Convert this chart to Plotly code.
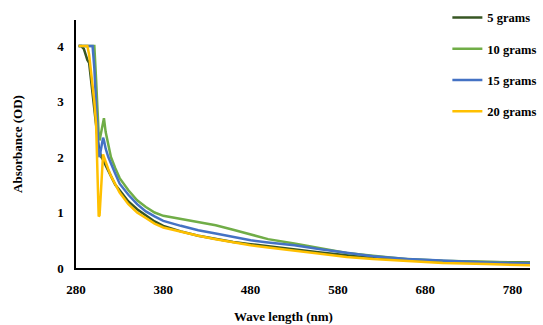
import plotly.graph_objects as go

wavelength = [283, 286, 289, 291, 293, 295, 297, 299, 301, 303, 305, 306, 307, 309, 311, 312, 314, 317, 320, 325,
              330, 340, 350, 360, 370, 380, 400, 420, 440, 460, 480, 500, 530, 560, 590, 620, 660, 700, 750, 800]

abs_5g = [4.0, 4.0, 3.95, 3.85, 3.75, 3.7, 3.4, 3.1, 2.85, 2.6, 2.3, 2.2, 2.1, 2.0, 1.95, 1.92, 1.85, 1.75, 1.65, 1.5,
          1.4, 1.2, 1.06, 0.95, 0.84, 0.76, 0.66, 0.58, 0.52, 0.47, 0.43, 0.39, 0.34, 0.28, 0.23, 0.18, 0.14, 0.12, 0.11, 0.1]
abs_10g = [4.0, 4.0, 4.0, 4.0, 4.0, 4.0, 4.0, 4.0, 4.0, 3.4, 2.6, 2.4, 2.3, 2.45, 2.65, 2.7, 2.45, 2.2, 2.0, 1.8,
           1.62, 1.4, 1.22, 1.1, 1.0, 0.94, 0.88, 0.83, 0.77, 0.69, 0.6, 0.52, 0.44, 0.35, 0.27, 0.22, 0.16, 0.13, 0.11, 0.09]
abs_15g = [4.0, 4.0, 4.0, 4.0, 4.0, 4.0, 4.0, 4.0, 3.6, 3.0, 2.3, 2.05, 2.0, 2.15, 2.35, 2.3, 2.15, 2.0, 1.88, 1.7,
           1.52, 1.32, 1.15, 1.02, 0.93, 0.85, 0.76, 0.68, 0.62, 0.56, 0.5, 0.46, 0.41, 0.34, 0.27, 0.21, 0.16, 0.13, 0.1, 0.08]
abs_20g = [4.0, 4.0, 4.0, 4.0, 4.0, 3.85, 3.6, 3.3, 3.0, 2.6, 1.6, 0.93, 0.95, 1.5, 2.05, 2.0, 1.9, 1.78, 1.66, 1.5,
           1.36, 1.15, 1.0, 0.9, 0.8, 0.73, 0.65, 0.58, 0.52, 0.46, 0.41, 0.37, 0.31, 0.25, 0.2, 0.16, 0.12, 0.09, 0.07, 0.05]

series_names = ["5 grams", "10 grams", "15 grams", "20 grams"]
series_values = [abs_5g, abs_10g, abs_15g, abs_20g]
colors = ["#375623", "#70AD47", "#4472C4", "#FFC000"]

x_ticks = [280, 380, 480, 580, 680, 780]
y_ticks = [0, 1, 2, 3, 4]

font_family = "Liberation Serif, Times New Roman, serif"

fig = go.Figure()
for i, (name, vals, col) in enumerate(zip(series_names, series_values, colors)):
    fig.add_trace(go.Scatter(
        x=wavelength, y=vals, mode="lines", name=name,
        line=dict(color=col, width=2.5), legendgroup=name,
    ))

fig.update_layout(
    width=543, height=325,
    margin=dict(l=76, r=13, t=20, b=57, autoexpand=False),
    paper_bgcolor="white", plot_bgcolor="white",
    font=dict(family=font_family, size=13, color="black"),
    showlegend=True,
    legend=dict(
        x=0.818, y=1.069, xanchor="left", yanchor="top",
        bgcolor="rgba(0,0,0,0)", tracegroupgap=12,
        font=dict(family=font_family, size=12.5, color="black", weight="bold"),
    ),
    xaxis=dict(
        range=[280, 800], tickvals=x_ticks, ticktext=[str(v) for v in x_ticks],
        showgrid=False, zeroline=False, showline=True, linecolor="black", linewidth=2,
        ticks="", tickfont=dict(family=font_family, size=13, weight="bold"),
        ticklabelstandoff=8,
    ),
    yaxis=dict(
        range=[0, 4.47], tickvals=y_ticks, ticktext=[str(v) for v in y_ticks],
        showgrid=False, zeroline=False, showline=True, linecolor="black", linewidth=1.5,
        ticks="", tickfont=dict(family=font_family, size=13, weight="bold"),
        ticklabelstandoff=8,
        title=dict(text="Absorbance (OD)", font=dict(family=font_family, size=13, weight="bold"), standoff=32),
    ),
    annotations=[dict(
        text="Wave length (nm)", x=0.456, xref="paper", y=-0.197, yref="paper",
        xanchor="center", yanchor="middle", showarrow=False,
        font=dict(family=font_family, size=13, weight="bold"),
    )],
)

fig.write_html("out.html")
